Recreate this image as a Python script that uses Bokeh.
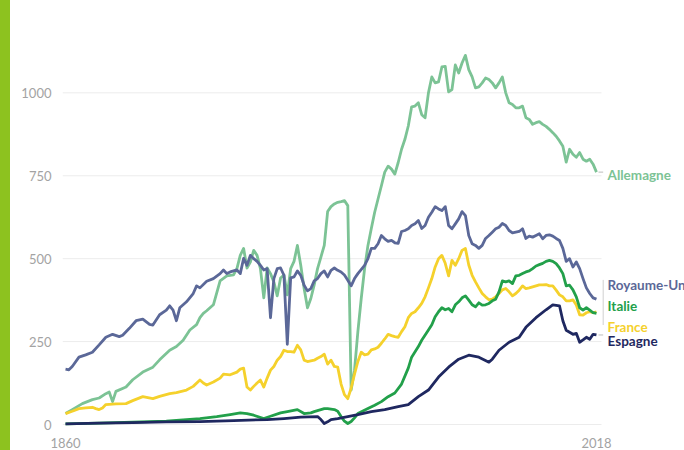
from bokeh.plotting import figure
from bokeh.models import Div, Range1d, FixedTicker
from bokeh.layouts import row
from bokeh.embed import file_html
from bokeh.resources import INLINE
from bokeh.core.properties import value

# ---- data ----
de_years = [1860, 1862, 1865, 1868, 1870, 1872, 1873, 1874, 1875, 1878, 1880, 1883, 1886, 1888, 1891, 1893, 1895, 1897, 1899,
            1900, 1901, 1902, 1904, 1906, 1908, 1910, 1911, 1912, 1913, 1914, 1915, 1916, 1917, 1918, 1919, 1920, 1921, 1922,
            1923, 1924, 1925, 1926, 1927, 1928, 1929, 1930, 1931, 1932, 1933, 1934, 1935, 1936, 1937, 1938, 1939, 1940, 1941,
            1942, 1943, 1944, 1945, 1946, 1947, 1948, 1949, 1950, 1951, 1952, 1953, 1954, 1955, 1956, 1957, 1958, 1959, 1960,
            1961, 1962, 1963, 1964, 1965, 1966, 1967, 1968, 1969, 1970, 1971, 1972, 1973, 1974, 1975, 1976, 1977, 1978, 1979,
            1980, 1981, 1982, 1983, 1984, 1985, 1986, 1987, 1988, 1989, 1990, 1991, 1992, 1993, 1994, 1995, 1996, 1997, 1998,
            1999, 2000, 2001, 2002, 2003, 2004, 2005, 2006, 2007, 2008, 2009, 2010, 2011, 2012, 2013, 2014, 2015, 2016, 2017, 2018]
de_values = [33, 45, 63, 75, 80, 93, 98, 69, 100, 113, 135, 158, 173, 195, 224, 235, 254, 285, 301,
             322, 335, 343, 361, 433, 448, 451, 470, 510, 531, 472, 490, 525, 510, 470, 382, 472, 455, 430,
             388, 442, 451, 391, 470, 492, 540, 480, 410, 352, 380, 421, 470, 505, 540, 642, 657, 665, 670,
             672, 675, 660, 104, 164, 280, 380, 470, 540, 591, 640, 680, 720, 761, 779, 770, 755, 790, 830,
             860, 900, 958, 960, 970, 934, 925, 1000, 1048, 1030, 1033, 1078, 1080, 1003, 1010, 1084, 1060, 1090, 1113,
             1070, 1048, 1015, 1018, 1030, 1045, 1040, 1030, 1015, 1030, 1048, 1000, 970, 965, 955, 955, 960, 925, 920,
             905, 910, 913, 905, 899, 890, 880, 869, 855, 839, 791, 830, 815, 806, 820, 800, 794, 800, 785, 761]

uk_years = [1860, 1861, 1862, 1864, 1866, 1868, 1870, 1872, 1874, 1876, 1877, 1879, 1881, 1883, 1885, 1886, 1888, 1890, 1891,
            1892, 1893, 1894, 1896, 1898, 1899, 1900, 1902, 1904, 1906, 1907, 1908, 1909, 1911, 1912, 1913, 1914, 1915, 1916,
            1917, 1918, 1919, 1920, 1921, 1922, 1923, 1924, 1925, 1926, 1927, 1928, 1929, 1930, 1931, 1932, 1933, 1934, 1935,
            1936, 1937, 1938, 1939, 1940, 1941, 1942, 1943, 1944, 1945, 1946, 1947, 1949, 1950, 1951, 1952, 1953, 1954, 1955,
            1956, 1957, 1958, 1959, 1960, 1961, 1962, 1963, 1964, 1965, 1966, 1967, 1968, 1969, 1970, 1971, 1972, 1973, 1974,
            1975, 1976, 1977, 1978, 1979, 1980, 1981, 1982, 1983, 1984, 1985, 1986, 1987, 1988, 1989, 1990, 1991, 1992, 1993,
            1994, 1995, 1996, 1997, 1998, 1999, 2000, 2001, 2002, 2003, 2004, 2005, 2006, 2007, 2008, 2009, 2010, 2011, 2012,
            2013, 2014, 2015, 2016, 2017, 2018]
uk_values = [167, 165, 175, 203, 210, 218, 240, 263, 272, 265, 269, 290, 313, 318, 302, 300, 331, 345, 358,
             345, 313, 352, 370, 395, 418, 412, 432, 440, 455, 466, 455, 460, 466, 455, 501, 480, 510, 500,
             492, 480, 466, 470, 322, 440, 470, 472, 450, 242, 442, 445, 463, 450, 420, 403, 410, 433, 440,
             455, 463, 445, 465, 472, 465, 460, 451, 435, 418, 440, 455, 480, 500, 531, 531, 545, 570, 560,
             552, 555, 548, 546, 582, 585, 590, 600, 605, 615, 591, 600, 625, 640, 657, 650, 645, 657, 600,
             590, 605, 620, 642, 630, 570, 545, 540, 531, 540, 561, 570, 580, 590, 595, 606, 600, 585, 578,
             580, 582, 590, 561, 568, 565, 570, 575, 560, 570, 572, 568, 561, 555, 531, 492, 500, 475, 490,
             470, 440, 412, 395, 382, 378]

fr_years = [1860, 1862, 1864, 1866, 1868, 1869, 1870, 1871, 1872, 1875, 1878, 1880, 1883, 1886, 1888, 1891, 1893, 1896, 1898,
            1900, 1901, 1902, 1904, 1906, 1907, 1909, 1911, 1912, 1913, 1914, 1915, 1916, 1917, 1918, 1919, 1920, 1921, 1922,
            1923, 1924, 1925, 1926, 1927, 1928, 1929, 1930, 1931, 1932, 1933, 1934, 1935, 1936, 1937, 1938, 1939, 1940, 1941,
            1942, 1943, 1944, 1945, 1946, 1947, 1948, 1949, 1950, 1951, 1952, 1953, 1954, 1955, 1956, 1957, 1958, 1959, 1960,
            1961, 1962, 1963, 1964, 1965, 1966, 1967, 1968, 1969, 1970, 1971, 1972, 1973, 1974, 1975, 1976, 1977, 1978, 1979,
            1980, 1981, 1982, 1983, 1984, 1985, 1986, 1987, 1988, 1989, 1990, 1991, 1992, 1993, 1994, 1995, 1996, 1997, 1998,
            1999, 2000, 2001, 2002, 2003, 2004, 2005, 2006, 2007, 2008, 2009, 2010, 2011, 2012, 2013, 2014, 2015, 2016, 2017, 2018]
fr_values = [33, 40, 48, 50, 52, 48, 45, 50, 60, 62, 63, 72, 84, 78, 85, 93, 96, 104, 115,
             134, 125, 119, 128, 140, 152, 150, 158, 167, 170, 113, 104, 115, 125, 134, 113, 140, 164, 175,
             194, 205, 224, 220, 220, 218, 239, 225, 194, 190, 192, 194, 200, 205, 212, 182, 194, 175, 173,
             122, 90, 78, 110, 152, 190, 218, 210, 212, 225, 228, 233, 245, 258, 272, 268, 265, 263, 280,
             295, 322, 335, 340, 352, 365, 385, 412, 440, 475, 500, 510, 486, 448, 495, 480, 500, 525, 531,
             481, 450, 430, 412, 395, 385, 376, 378, 385, 395, 406, 410, 400, 388, 395, 405, 418, 410, 412,
             415, 418, 421, 421, 422, 418, 418, 405, 391, 385, 373, 373, 376, 360, 331, 330, 337, 340, 337, 340]

it_years = [1860, 1870, 1880, 1890, 1900, 1905, 1909, 1912, 1914, 1916, 1919, 1921, 1924, 1926, 1929, 1931, 1933, 1934, 1937,
            1938, 1940, 1941, 1942, 1943, 1944, 1945, 1946, 1947, 1950, 1952, 1954, 1956, 1958, 1960, 1962, 1963, 1965, 1966,
            1968, 1969, 1970, 1971, 1972, 1973, 1974, 1975, 1976, 1977, 1978, 1979, 1980, 1981, 1982, 1983, 1984, 1985, 1986,
            1987, 1988, 1989, 1990, 1991, 1992, 1993, 1994, 1995, 1996, 1997, 1998, 1999, 2000, 2001, 2002, 2003, 2004, 2005,
            2006, 2007, 2008, 2009, 2010, 2011, 2012, 2013, 2014, 2015, 2016, 2017, 2018]
it_values = [2, 4, 7, 10, 18, 24, 30, 35, 33, 28, 18, 25, 35, 39, 45, 33, 35, 39, 48,
             48, 45, 40, 24, 10, 3, 9, 20, 33, 48, 58, 69, 84, 95, 122, 170, 203, 235, 254,
             285, 301, 325, 340, 352, 346, 350, 340, 361, 370, 382, 388, 375, 361, 355, 367, 360, 361, 365,
             373, 378, 400, 433, 430, 433, 425, 448, 450, 455, 460, 463, 470, 478, 482, 486, 492, 495, 492,
             485, 472, 455, 418, 420, 406, 385, 352, 345, 352, 345, 337, 335]

es_years = [1860, 1870, 1880, 1890, 1900, 1910, 1920, 1925, 1930, 1935, 1936, 1937, 1938, 1939, 1941, 1944, 1947, 1951, 1955,
            1959, 1962, 1965, 1968, 1971, 1974, 1977, 1980, 1983, 1986, 1987, 1989, 1992, 1995, 1997, 2000, 2003, 2005, 2007,
            2008, 2009, 2011, 2012, 2013, 2014, 2015, 2016, 2017, 2018]
es_values = [2, 4, 6, 8, 9, 12, 15, 18, 22, 24, 15, 3, 8, 15, 18, 24, 30, 39, 45,
             54, 60, 84, 104, 143, 173, 197, 209, 203, 188, 197, 224, 248, 263, 293, 322, 346, 361, 358,
             313, 284, 272, 275, 248, 255, 263, 257, 272, 270]

y_ticks = [0, 250, 500, 750, 1000]
x_ticks = [1860, 2018]

labels = ["Allemagne", "Royaume-Uni", "Italie", "France", "Espagne"]
label_y = [752, 421, 358, 295, 253]

c_de, c_uk, c_fr, c_it, c_es = "#7cc395", "#5b6898", "#f5d12c", "#22a04a", "#1f2860"
label_colors = [c_de, c_uk, c_it, c_fr, c_es]

# ---- figure ----
p = figure(width=674, height=450, x_range=Range1d(1859.1, 2044.2), y_range=Range1d(-12, 1188),
           output_backend="svg", toolbar_location=None,
           min_border_left=52, min_border_right=0, min_border_top=30, min_border_bottom=18)
p.outline_line_color = None
p.background_fill_color = "white"
p.border_fill_color = "white"
p.xgrid.visible = False
p.ygrid.visible = False

for ax in (p.xaxis[0], p.yaxis[0]):
    ax.axis_line_color = None
    ax.major_tick_line_color = None
    ax.minor_tick_line_color = None
    ax.major_label_text_color = "#a3a3a3"
    ax.major_label_text_font = "Lato"
    ax.major_label_text_font_size = "13px"
p.xaxis[0].ticker = FixedTicker(ticks=x_ticks)
p.yaxis[0].ticker = FixedTicker(ticks=y_ticks)
p.xaxis[0].major_label_standoff = 3
p.yaxis[0].major_label_standoff = 5

# grid lines (stop at the end of the data area)
p.segment(x0=[1859.1] * len(y_ticks), x1=[2019.5] * len(y_ticks), y0=y_ticks, y1=y_ticks,
          line_color="#ececec", line_width=1)

lw = 2.8
p.line(de_years, de_values, line_color=c_de, line_width=lw, line_join="round")
p.line(uk_years, uk_values, line_color=c_uk, line_width=lw, line_join="round")
p.line(fr_years, fr_values, line_color=c_fr, line_width=lw, line_join="round")
p.line(it_years, it_values, line_color=c_it, line_width=lw, line_join="round")
p.line(es_years, es_values, line_color=c_es, line_width=lw, line_join="round")

# leader marks
p.segment(x0=[2018.6, 2018.6], x1=[2020.0, 2020.0], y0=[de_values[-1], es_values[-1]], y1=[de_values[-1], es_values[-1]],
          line_color="#bdbdbd", line_width=1)
p.segment(x0=[2020.0], x1=[2020.0], y0=[436], y1=[300], line_color="#d0d0d0", line_width=1)

p.text(x=[2021.3] * len(labels), y=label_y, text=labels, text_color=label_colors,
       text_font=value("Lato"), text_font_style="bold", text_font_size="13.5px",
       text_align="left", text_baseline="middle")

bar = Div(width=10, height=450, margin=(0, 0, 0, 0), styles={"background-color": "#8dc21f"})
layout = row(bar, p, spacing=0, margin=(0, 0, 0, 0))

html = file_html(layout, INLINE)
html = html.replace("</head>", "<style>html,body{margin:0;padding:0;}</style></head>", 1)
open("out.html", "w").write(html)
